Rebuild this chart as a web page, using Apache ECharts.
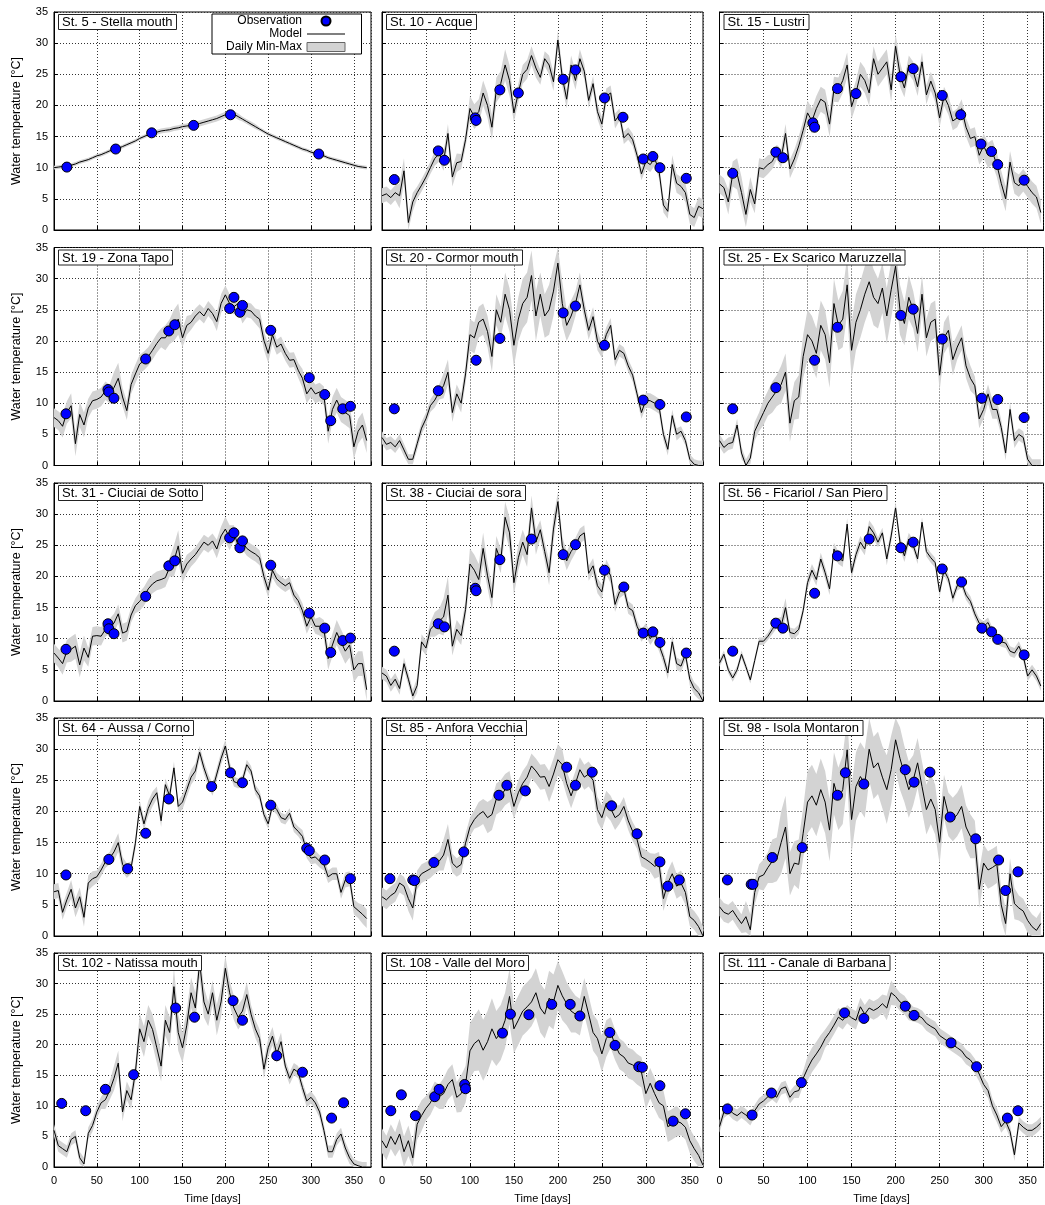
<!DOCTYPE html>
<html>
<head>
<meta charset="utf-8">
<script src="https://cdn.jsdelivr.net/npm/echarts/dist/echarts.min.js"></script>
<style>
  html, body { margin: 0; padding: 0; background: #fff; }
  #chart { width: 1045px; height: 1205px; }
</style>
</head>
<body>
<div id="chart"></div>
<script>
// Daily water temperature: model (5-day samples), daily min-max half range (10-day samples)
// and observations [day, °C] for 15 lagoon stations.
const dayStep = 5;
const spreadStep = 10;

const stationNames = [
  'St. 5 - Stella mouth', 'St. 10 - Acque', 'St. 15 - Lustri',
  'St. 19 - Zona Tapo', 'St. 20 - Cormor mouth', 'St. 25 - Ex Scarico Maruzzella',
  'St. 31 - Ciuciai de Sotto', 'St. 38 - Ciuciai de sora', 'St. 56 - Ficariol / San Piero',
  'St. 64 - Aussa / Corno', 'St. 85 - Anfora Vecchia', 'St. 98 - Isola Montaron',
  'St. 102 - Natissa mouth', 'St. 108 - Valle del Moro', 'St. 111 - Canale di Barbana'
];

const xTicks = [0, 50, 100, 150, 200, 250, 300, 350];
const yTicks = [0, 5, 10, 15, 20, 25, 30, 35];

const modelSt5 = [10.0,10.1,10.2,10.2,10.4,10.6,10.9,11.1,11.3,11.6, 11.9,12.1,12.4,12.7,12.9,13.1,13.4,13.7,14.0,14.3, 14.7,15.0,15.3,15.6,15.7,15.9,16.0,16.1,16.3,16.4, 16.6,16.7,16.8,16.9,17.1,17.3,17.5,17.7,17.9,18.2, 18.5,18.8,18.6,18.2,17.8,17.4,17.0,16.6,16.2,15.8, 15.4,15.1,14.8,14.5,14.2,13.9,13.6,13.3,13.0,12.8, 12.5,12.3,12.1,11.9,11.6,11.4,11.2,11.0,10.8,10.6, 10.4,10.2,10.1,10.0];
const modelSt10 = [5.5,5.8,5.2,6.0,5.5,9.5,1.2,4.5,6.0,7.2, 8.5,10.0,11.5,12.2,11.0,15.5,8.5,10.8,11.0,14.5, 19.5,18.2,19.0,22.0,20.0,16.5,22.5,23.5,26.5,24.0, 18.8,22.0,25.0,25.8,28.0,26.0,24.5,27.5,26.5,23.8, 30.5,24.5,21.0,26.5,24.0,27.5,25.5,20.8,23.5,19.0, 17.0,21.5,22.0,17.5,18.5,14.8,15.5,14.5,12.0,9.0, 11.0,10.5,11.5,9.5,4.0,3.0,10.5,7.5,7.0,6.0, 2.5,2.0,3.8,3.4];
const modelSt15 = [7.4,6.8,4.5,9.0,9.0,6.0,2.5,6.5,4.2,10.0, 9.8,10.5,11.0,12.5,11.5,15.5,9.8,11.4,13.5,16.0, 18.8,17.5,19.5,21.0,20.5,17.0,22.6,22.5,24.0,26.5, 19.8,22.0,25.0,24.0,22.0,27.5,25.0,26.0,27.0,22.5, 29.5,25.0,22.8,26.5,25.5,23.0,27.0,21.7,23.9,22.0, 18.0,21.5,20.0,17.5,18.0,19.5,16.5,14.7,15.0,12.0, 13.5,12.0,12.5,10.5,7.5,5.0,10.9,7.6,7.1,8.0, 7.0,6.0,5.3,2.8];
const modelSt19 = [7.7,7.2,6.3,8.5,9.6,3.5,8.2,6.5,9.2,10.4, 10.6,11.0,12.0,11.5,12.5,14.0,11.0,8.8,13.0,14.7, 16.3,16.8,17.5,18.5,19.6,20.5,20.5,21.5,22.5,23.5, 20.5,22.5,23.0,24.0,24.7,24.0,25.2,24.4,23.1,26.0, 27.4,26.0,25.5,26.0,24.0,25.0,24.8,24.0,23.5,20.1, 18.0,21.0,19.0,19.5,18.0,16.9,17.0,15.3,14.0,11.5, 12.5,11.5,11.8,11.2,5.5,9.0,10.5,9.0,8.5,8.0, 3.0,5.5,6.5,4.0];
const modelSt20 = [4.5,3.4,3.7,3.0,4.0,2.5,1.0,1.0,3.5,6.0, 7.5,9.6,10.5,11.8,12.8,15.0,8.5,11.5,10.0,14.7, 21.0,20.5,23.0,23.5,21.5,17.5,25.0,23.0,27.5,25.0, 19.3,23.5,26.0,27.0,30.5,24.0,27.5,24.0,25.0,28.0, 32.5,26.0,22.5,24.0,26.0,29.0,25.0,21.7,23.9,20.0, 18.5,21.0,22.5,17.0,18.5,18.0,16.0,14.5,11.5,8.5, 10.5,10.4,10.0,9.5,5.0,2.6,8.0,5.0,5.5,4.0, 1.0,0.2,0.0,0.0];
const modelSt25 = [4.0,2.9,3.5,3.7,6.5,2.0,0.0,1.2,5.5,7.0, 8.5,10.0,11.0,12.0,13.0,15.0,6.8,10.4,11.0,17.5, 21.0,20.0,18.0,22.5,21.0,16.5,26.0,22.5,23.5,29.0, 18.5,23.0,25.0,27.5,29.5,27.0,26.0,28.5,24.0,28.2, 32.0,25.0,22.8,27.0,25.0,21.2,27.5,20.5,23.0,23.5, 14.5,20.5,21.7,17.0,19.0,20.5,16.0,14.0,12.8,7.5, 9.0,11.5,9.0,9.0,6.1,2.0,9.0,4.0,5.0,4.5, 1.0,0.0,0.0,0.0];
const modelSt31 = [7.7,6.9,6.0,8.0,8.3,8.8,5.8,8.5,7.0,10.4, 10.5,10.4,11.5,12.0,12.5,14.0,10.9,11.2,13.8,15.3, 16.0,16.8,18.0,18.8,19.3,19.5,19.8,21.5,22.5,24.9, 20.5,22.0,22.8,23.5,24.5,25.5,25.0,25.7,24.4,26.5, 27.6,26.2,27.0,24.9,25.5,24.5,24.0,23.6,23.0,20.0, 17.8,21.0,19.6,19.0,18.5,19.0,17.0,16.1,14.5,12.0, 13.5,12.0,12.0,11.5,6.8,9.0,11.0,9.5,8.0,9.0, 5.0,6.0,6.0,1.8];
const modelSt38 = [4.5,4.0,2.5,3.5,2.0,6.0,3.5,0.8,2.5,9.5, 8.5,11.5,12.3,12.8,13.5,17.0,8.8,11.5,10.5,14.7, 22.0,21.0,19.5,24.5,20.1,16.6,24.5,22.5,29.5,27.0, 19.0,23.0,25.5,23.5,31.0,25.5,27.5,24.0,20.6,27.6, 32.0,24.9,22.5,24.0,25.0,26.5,27.0,20.5,21.7,18.5, 17.5,21.5,20.1,15.5,17.5,18.0,15.0,14.5,12.0,10.5, 11.5,10.0,11.0,9.0,7.0,4.5,9.5,6.0,5.6,7.5, 3.5,2.0,1.3,0.0];
const modelSt56 = [6.1,7.5,5.0,3.7,5.0,7.5,5.5,3.4,6.5,9.6, 9.6,10.4,11.5,12.5,12.0,15.0,11.0,10.8,11.5,14.5, 19.0,21.0,19.5,22.8,20.6,18.0,24.4,23.0,22.5,28.4, 20.6,23.5,25.5,24.4,28.0,27.0,25.5,27.0,22.8,26.5, 31.0,25.5,23.3,26.0,25.0,22.8,28.7,24.0,23.0,22.2, 17.5,21.0,19.6,16.5,18.5,19.0,17.0,16.0,14.0,12.5, 12.0,12.6,11.0,10.0,9.5,9.3,8.0,7.7,8.8,7.2, 4.0,5.0,4.0,2.4];
const modelSt64 = [7.1,7.3,3.8,5.8,7.5,4.5,6.3,3.0,8.5,9.2, 9.5,10.6,11.9,12.5,13.5,15.0,11.5,10.5,11.0,14.9, 20.8,18.0,20.5,22.0,23.0,18.5,24.3,22.5,27.0,20.8, 21.5,23.5,25.5,26.5,29.5,27.0,25.0,23.5,26.0,28.5, 30.5,27.0,24.8,24.5,25.0,27.5,26.5,23.5,22.5,19.5, 18.0,21.0,20.3,19.0,18.7,19.7,17.5,16.8,16.0,13.5, 12.5,12.7,12.0,11.5,9.5,10.0,10.0,7.0,9.0,9.2, 4.7,4.1,3.5,2.8];
const modelSt85 = [6.3,5.8,6.5,7.0,8.5,8.0,6.0,4.5,9.0,10.0, 10.4,10.8,11.5,12.0,13.0,15.5,11.7,11.0,11.5,14.9, 17.5,18.7,19.5,20.0,19.0,19.5,22.0,22.5,23.5,24.0, 20.8,23.0,24.5,25.5,27.3,26.5,25.5,25.6,24.0,26.0, 28.3,27.5,24.5,22.5,24.5,26.7,25.5,26.0,25.0,20.3, 19.0,21.3,20.5,19.0,19.5,20.8,18.5,16.8,15.5,12.7, 12.3,11.8,11.2,11.5,6.0,8.5,10.0,8.0,8.5,7.0, 3.1,2.5,1.5,0.0];
const modelSt98 = [4.7,3.8,3.5,4.1,3.0,2.0,3.1,1.0,7.0,9.5, 9.8,11.0,12.0,12.3,15.0,17.5,10.0,11.7,11.5,16.5, 21.5,22.5,21.0,23.5,21.5,17.0,24.5,22.0,23.5,29.9, 18.7,24.0,25.6,24.5,30.0,27.0,27.8,25.5,23.5,26.7, 31.5,28.5,26.0,23.5,25.0,27.8,24.0,20.3,22.0,20.3, 15.0,22.4,19.5,18.7,19.5,20.8,17.5,16.0,15.5,7.5, 11.7,10.6,11.0,11.5,5.0,2.0,10.0,5.2,4.5,4.0, 2.5,1.5,0.9,2.0];
const modelSt102 = [6.0,3.5,3.0,2.5,4.5,5.0,1.5,0.5,5.5,6.8, 9.0,10.5,11.0,12.5,14.5,17.0,9.0,12.5,11.0,15.5, 22.6,20.5,24.0,22.5,19.5,16.5,24.0,22.0,29.5,22.0, 19.5,23.2,28.5,26.0,33.5,27.0,25.0,28.5,24.0,27.0, 32.5,28.5,26.0,24.5,25.5,28.2,25.0,22.6,21.0,16.0, 19.5,21.4,18.5,20.5,16.5,14.5,16.0,15.5,13.0,10.8, 11.4,10.5,9.0,6.0,2.5,2.5,4.5,5.4,3.1,1.5, 0.5,0.2,0.0,0.0];
const modelSt108 = [4.3,3.1,5.0,3.7,5.4,2.5,4.3,1.5,7.0,8.4, 9.6,10.5,12.0,11.5,12.0,13.5,14.3,11.4,12.0,13.5, 19.0,20.2,20.8,19.1,20.5,22.6,21.0,22.0,24.0,27.9, 22.6,24.0,25.5,26.2,27.0,28.5,26.0,25.0,27.6,27.0, 29.7,28.0,26.7,25.5,25.0,24.5,27.9,25.0,22.0,21.0, 18.5,21.0,22.0,20.0,18.5,18.0,17.0,16.7,16.0,15.5, 12.0,13.7,12.0,10.5,10.0,6.6,7.0,7.5,7.2,6.5, 4.3,3.0,1.9,0.3];
const modelSt111 = [6.6,9.0,9.6,8.8,8.4,9.0,8.5,7.8,9.2,10.3, 10.8,11.5,12.0,11.4,12.8,13.1,11.4,12.3,12.5,14.5, 16.1,17.5,18.5,19.6,21.0,22.0,23.2,24.5,24.0,25.0, 24.4,24.0,26.2,25.0,26.0,25.6,26.0,26.7,26.0,28.5, 27.9,27.0,26.5,25.5,25.0,24.8,24.4,23.5,23.0,22.6, 21.5,21.0,20.5,20.0,19.5,19.0,18.0,17.5,16.5,15.2, 13.5,12.5,10.0,8.5,6.6,7.5,5.8,2.0,7.2,6.5, 6.0,6.0,6.5,7.2];

const spreadSt5 = [0.3,0.3,0.3,0.3,0.3,0.3,0.3,0.3,0.3,0.3,0.3,0.3,0.4,0.4,0.4,0.4,0.5,0.5,0.5,0.5,0.5,0.5,0.4,0.4,0.3,0.3,0.3,0.3,0.3,0.3,0.3,0.3,0.3,0.3,0.3,0.3,0.3];
const spreadSt10 = [1.2,1.2,2.0,1.5,1.0,1.0,1.2,1.5,1.5,1.2,2.0,2.0,2.0,2.0,2.5,1.5,1.5,1.5,1.2,1.5,1.5,1.5,1.5,1.2,1.2,1.2,1.2,1.0,1.0,1.0,1.2,1.2,1.2,1.5,1.5,1.5,1.5];
const spreadSt15 = [1.5,2.0,2.5,2.0,1.5,1.5,1.2,1.5,1.5,1.5,2.0,2.0,2.0,2.0,2.0,2.0,2.0,2.0,2.0,2.0,2.0,1.5,1.5,1.5,1.5,1.5,1.5,1.5,1.5,1.5,2.0,2.0,2.0,1.8,1.8,1.8,1.8];
const spreadSt19 = [1.5,1.8,2.0,2.0,1.5,1.5,1.5,2.5,1.5,1.5,1.5,1.5,1.5,2.0,2.5,1.5,1.2,1.2,1.2,1.5,1.5,1.2,1.2,1.2,1.5,1.5,1.2,1.2,1.2,1.5,1.5,1.5,2.0,2.0,2.0,2.0,2.0];
const spreadSt20 = [1.0,1.0,1.0,0.8,1.0,1.0,1.2,2.0,1.5,1.5,2.5,2.5,2.5,2.5,3.5,3.5,4.0,4.0,3.5,4.0,3.5,2.5,2.0,1.5,1.5,1.2,1.2,1.0,1.0,1.0,1.2,1.2,1.0,1.0,0.8,0.8,0.8];
const spreadSt25 = [1.0,1.0,1.0,1.0,1.5,2.0,2.5,3.0,3.0,3.5,4.0,4.0,4.0,4.0,4.5,4.5,4.5,4.5,4.0,4.5,4.0,3.5,3.0,3.0,3.0,2.5,2.5,2.0,2.0,1.5,1.5,1.5,1.2,1.2,1.0,1.0,1.0];
const spreadSt31 = [1.5,1.8,2.0,2.0,1.5,1.5,1.2,1.5,1.5,1.2,1.5,1.5,1.5,1.5,2.5,1.5,1.2,1.2,1.2,1.5,2.0,1.2,1.2,1.2,1.2,1.2,1.0,1.0,1.0,1.2,1.2,1.5,1.8,2.0,2.0,2.0,2.0];
const spreadSt38 = [1.0,1.0,1.0,1.0,1.2,1.2,2.0,3.0,1.5,1.5,2.5,2.5,2.0,2.0,2.5,2.0,2.0,2.0,1.5,2.0,1.5,1.5,1.2,1.2,1.2,1.2,1.2,1.0,1.0,1.0,1.0,1.0,1.0,1.0,1.0,1.0,1.0];
const spreadSt56 = [0.6,0.6,0.6,0.6,0.6,0.6,0.8,1.5,0.8,0.8,1.0,1.0,1.0,1.0,1.0,1.0,1.0,1.0,0.8,1.0,1.0,1.0,0.8,0.8,0.8,0.8,0.8,0.8,0.8,0.8,0.8,0.8,0.8,0.8,0.8,0.8,0.8];
const spreadSt64 = [1.2,1.2,1.5,1.5,1.2,1.0,1.0,1.5,1.2,1.0,1.0,1.2,1.0,1.0,1.0,1.2,1.2,1.0,1.0,1.0,1.0,0.8,0.8,0.8,0.8,0.8,0.8,0.8,0.8,1.0,1.0,1.0,1.0,1.0,1.2,1.2,1.5];
const spreadSt85 = [1.5,1.5,1.5,2.0,1.5,1.5,1.5,2.5,1.5,1.5,1.5,2.0,2.5,2.5,2.5,2.0,2.0,2.0,2.0,2.5,2.5,2.0,2.0,2.0,2.0,2.0,2.0,1.5,1.5,1.5,1.5,2.0,2.0,2.0,2.0,1.5,1.5];
const spreadSt98 = [1.5,1.5,1.5,2.5,2.0,2.5,3.5,5.0,3.5,4.0,5.0,5.0,5.0,5.0,5.5,5.5,5.5,5.0,5.0,5.5,5.0,4.5,4.0,4.0,4.0,3.5,3.5,3.5,3.5,3.0,3.0,3.0,2.5,2.5,2.0,2.0,2.0];
const spreadSt102 = [1.0,1.0,1.0,1.0,1.0,1.0,1.5,2.0,1.5,1.5,2.5,2.5,2.5,2.5,3.0,2.5,2.5,2.5,2.0,2.5,2.0,2.0,2.0,1.5,1.5,1.5,1.5,1.0,1.0,1.0,1.0,1.0,1.0,1.0,1.0,0.8,0.8];
const spreadSt108 = [2.0,2.0,2.5,2.5,2.5,2.0,2.0,2.5,2.5,3.0,4.5,5.0,5.0,4.5,4.5,4.0,4.0,4.0,4.0,4.5,4.0,3.5,3.0,3.0,3.0,3.0,2.5,2.5,2.5,2.5,2.5,2.5,2.5,2.5,2.0,2.0,2.0];
const spreadSt111 = [1.0,1.0,1.0,1.0,1.0,1.0,1.0,1.0,1.0,1.2,2.0,2.0,1.5,1.5,1.5,1.5,1.5,1.5,1.5,2.0,1.5,1.5,1.2,1.2,1.2,1.2,1.2,1.2,1.2,1.2,1.2,1.2,1.0,1.0,1.0,1.0,1.0];

const obsSt5 = [[15,10.1],[72,13.0],[114,15.6],[163,16.8],[206,18.5],[309,12.2]];
const obsSt10 = [[14,8.1],[64,12.7],[71,11.2],[106,18.0],[107,17.6],[134,22.5],[155,22.0],[206,24.2],[220,25.7],[253,21.2],[274,18.1],[297,11.4],[308,11.8],[316,10.0],[346,8.3]];
const obsSt15 = [[15,9.1],[64,12.5],[72,11.6],[106,17.2],[108,16.5],[134,22.7],[155,21.9],[206,24.6],[220,25.9],[253,21.6],[274,18.5],[297,13.8],[309,12.6],[316,10.5],[346,8.0]];
const obsSt19 = [[14,8.3],[63,12.2],[64,11.8],[70,10.8],[107,17.1],[134,21.6],[141,22.6],[205,25.2],[210,27.0],[217,24.6],[220,25.7],[253,21.7],[298,14.1],[316,11.4],[323,7.2],[337,9.1],[346,9.5]];
const obsSt20 = [[14,9.1],[64,12.0],[107,16.9],[134,20.4],[206,24.5],[220,25.6],[253,19.3],[297,10.5],[316,9.8],[346,7.8]];
const obsSt25 = [[15,9.1],[64,12.5],[108,16.9],[134,22.2],[206,24.1],[220,25.1],[253,20.3],[298,10.8],[316,10.6],[346,7.7]];
const obsSt31 = [[14,8.3],[63,12.4],[64,11.6],[70,10.8],[107,16.8],[134,21.7],[141,22.5],[205,26.2],[210,27.0],[217,24.6],[220,25.7],[253,21.8],[298,14.1],[316,11.7],[323,7.8],[337,9.7],[346,10.1]];
const obsSt38 = [[14,8.0],[64,12.4],[71,11.9],[106,18.1],[107,17.7],[134,22.7],[170,26.0],[206,23.5],[220,25.1],[253,21.0],[275,18.3],[297,10.9],[308,11.1],[316,9.4],[346,7.7]];
const obsSt56 = [[15,8.0],[64,12.5],[72,11.7],[108,17.3],[134,23.3],[170,26.0],[206,24.6],[220,25.5],[253,21.2],[275,19.1],[298,11.7],[309,11.1],[316,9.9],[346,7.4]];
const obsSt64 = [[14,9.8],[64,12.3],[86,10.8],[107,16.5],[134,22.0],[184,24.0],[206,26.2],[220,24.6],[253,21.0],[295,14.1],[298,13.7],[316,12.2],[346,9.2]];
const obsSt85 = [[9,9.2],[35,9.0],[37,8.9],[59,11.8],[93,13.5],[133,22.6],[142,24.2],[163,23.3],[210,27.1],[220,24.2],[239,26.3],[261,20.9],[290,16.4],[316,11.9],[325,8.0],[338,9.0]];
const obsSt98 = [[9,9.0],[36,8.3],[38,8.3],[60,12.6],[94,14.2],[134,22.6],[143,26.2],[164,24.4],[211,26.7],[221,24.7],[239,26.3],[262,19.1],[291,15.6],[317,12.2],[325,7.3],[339,10.3]];
const obsSt102 = [[9,10.4],[37,9.2],[60,12.7],[93,15.1],[142,26.0],[164,24.5],[209,27.2],[220,24.0],[260,18.2],[290,15.5],[324,8.0],[338,10.5]];
const obsSt108 = [[10,9.2],[22,11.8],[38,8.4],[60,11.5],[65,12.7],[94,13.5],[95,12.8],[137,21.9],[146,25.0],[167,24.9],[193,26.6],[214,26.6],[225,24.7],[259,22.0],[265,19.9],[292,16.4],[296,16.3],[316,13.3],[331,7.5],[345,8.7]];
const obsSt111 = [[9,9.5],[37,8.5],[59,12.1],[93,13.8],[142,25.2],[164,24.3],[211,26.3],[221,24.8],[263,20.3],[292,16.4],[327,8.0],[339,9.2]];

const models = [modelSt5, modelSt10, modelSt15, modelSt19, modelSt20, modelSt25, modelSt31, modelSt38, modelSt56, modelSt64, modelSt85, modelSt98, modelSt102, modelSt108, modelSt111];
const spreads = [spreadSt5, spreadSt10, spreadSt15, spreadSt19, spreadSt20, spreadSt25, spreadSt31, spreadSt38, spreadSt56, spreadSt64, spreadSt85, spreadSt98, spreadSt102, spreadSt108, spreadSt111];
const observations = [obsSt5, obsSt10, obsSt15, obsSt19, obsSt20, obsSt25, obsSt31, obsSt38, obsSt56, obsSt64, obsSt85, obsSt98, obsSt102, obsSt108, obsSt111];

// Layout of the 5 x 3 panel matrix
const FONT = '"Liberation Sans", Arial, Helvetica, sans-serif';
const colLeft = [54, 382, 719.5];
const colWidth = [317, 321, 324];
const colMax = [370, 365, 368];
const rowTop = [12, 247.5, 483, 718, 953];
const rowHeight = 218;

const BAND = '#d3d3d3';
const Y_MIN = yTicks[0], Y_MAX = yTicks[yTicks.length - 1];
const grid = [], xAxis = [], yAxis = [], series = [], title = [];

// Filled polygon between the daily minimum and maximum curves
function bandRenderer(band) {
  return function (params, api) {
    if (params.dataIndex !== 0) return null;
    const upper = band.map(d => api.coord([d[0], d[2]]));
    const lower = band.map(d => api.coord([d[0], d[1]])).reverse();
    return {
      type: 'polygon',
      shape: { points: upper.concat(lower) },
      style: { fill: BAND, stroke: null },
      silent: true
    };
  };
}

stationNames.forEach((name, i) => {
  const r = Math.floor(i / 3), c = i % 3;
  grid.push({
    left: colLeft[c], top: rowTop[r], width: colWidth[c], height: rowHeight,
    show: true, borderColor: '#000', borderWidth: 1, backgroundColor: 'transparent'
  });
  xAxis.push({
    gridIndex: i, type: 'value', min: xTicks[0], max: colMax[c], interval: xTicks[1] - xTicks[0],
    axisLine: { show: true, onZero: false, lineStyle: { color: '#000', width: 1 } },
    axisTick: { show: true, inside: true, length: 4, lineStyle: { color: '#000' } },
    axisLabel: {
      show: r === 4, showMaxLabel: false, margin: 8, color: '#000', fontSize: 11, fontFamily: FONT,
      formatter: v => (xTicks.indexOf(v) >= 0 ? String(v) : '')
    },
    splitLine: { show: true, lineStyle: { type: [1, 2], color: '#333', width: 1 } },
    name: r === 4 ? 'Time [days]' : '', nameLocation: 'middle', nameGap: 26,
    nameTextStyle: { color: '#000', fontSize: 11, fontFamily: FONT }
  });
  yAxis.push({
    gridIndex: i, type: 'value', min: Y_MIN, max: Y_MAX, interval: yTicks[1] - yTicks[0],
    axisLine: { show: true, onZero: false, lineStyle: { color: '#000', width: 1 } },
    axisTick: { show: true, inside: true, length: 4, lineStyle: { color: '#000' } },
    axisLabel: { show: c === 0, margin: 6, color: '#000', fontSize: 11, fontFamily: FONT },
    splitLine: { show: true, lineStyle: { type: [1, 2], color: '#333', width: 1 } },
    name: c === 0 ? 'Water temperature [\u00B0C]' : '', nameLocation: 'middle', nameGap: 31,
    nameTextStyle: { color: '#000', fontSize: 12.5, fontFamily: FONT }
  });

  const model = models[i], spread = spreads[i];
  const band = [], line = [];
  model.forEach((v, k) => {
    const day = k * dayStep;
    const s = spread[Math.min(Math.floor(day / spreadStep), spread.length - 1)];
    band.push([day, Math.max(Y_MIN, v - s), Math.min(Y_MAX, v + s)]);
    line.push([day, v]);
  });

  series.push({
    name: 'Daily Min-Max', type: 'custom', xAxisIndex: i, yAxisIndex: i,
    data: band, encode: { x: 0, y: [1, 2] },
    renderItem: bandRenderer(band), itemStyle: { color: BAND },
    silent: true, z: 1, animation: false
  });
  series.push({
    name: 'Model', type: 'line', xAxisIndex: i, yAxisIndex: i, data: line,
    symbol: 'none', lineStyle: { color: '#000', width: 1 }, itemStyle: { color: '#000' },
    z: 3, animation: false
  });
  series.push({
    name: 'Observation', type: 'scatter', xAxisIndex: i, yAxisIndex: i, data: observations[i],
    symbol: 'circle', symbolSize: 10,
    itemStyle: { color: '#0000ff', borderColor: '#000', borderWidth: 1, opacity: 1 },
    z: 4, animation: false
  });

  title.push({
    text: name, left: colLeft[c] + 4, top: rowTop[r] + 2,
    padding: [2, 4, 1, 4], borderColor: '#222', borderWidth: 1, backgroundColor: '#fff',
    textStyle: { fontSize: 13, fontWeight: 'normal', color: '#000', fontFamily: FONT }
  });
});

const chart = echarts.init(document.getElementById('chart'), null, { renderer: 'canvas' });
chart.setOption({
  animation: false,
  backgroundColor: '#fff',
  title: title,
  grid: grid,
  xAxis: xAxis,
  yAxis: yAxis,
  legend: {
    data: [
      { name: 'Observation' },
      { name: 'Model', icon: 'path://M0,0L36,0L36,1L0,1Z', itemStyle: { color: '#000' } },
      { name: 'Daily Min-Max', icon: 'rect', itemStyle: { color: BAND, borderColor: '#666', borderWidth: 1 } }
    ],
    orient: 'vertical', align: 'right', left: 212, top: 14,
    itemWidth: 38, itemHeight: 9, itemGap: 1, padding: [1, 16, 1, 14],
    borderColor: '#000', borderWidth: 1, backgroundColor: '#fff',
    selectedMode: false, z: 10,
    textStyle: { fontSize: 12, color: '#000', fontFamily: FONT }
  },
  series: series
});
</script>
</body>
</html>
